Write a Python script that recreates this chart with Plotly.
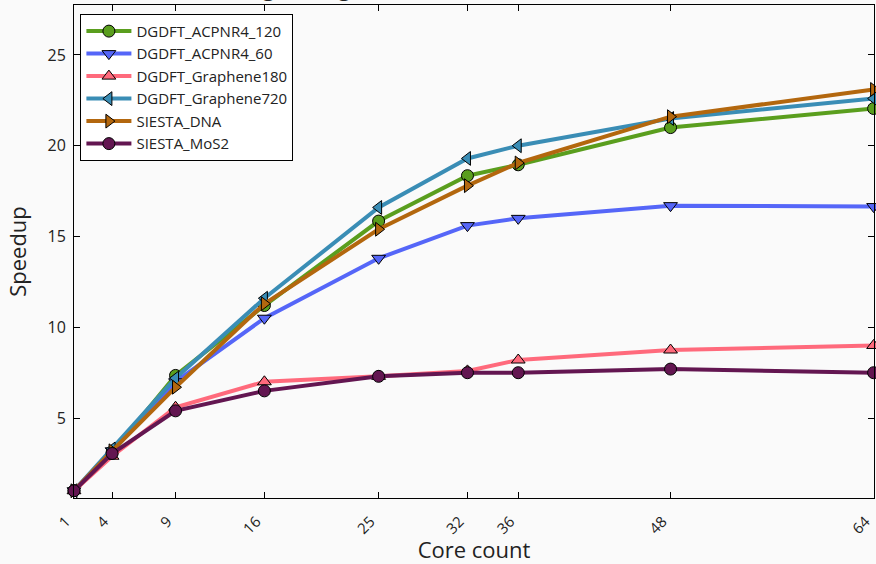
import plotly.graph_objects as go

cores = [1, 4, 9, 16, 25, 32, 36, 48, 64]
tick_labels = ["1", "4", "9", "16", "25", "32", "36", "48", "64"]

acpnr4_120 = [1.0, 3.1, 7.35, 11.2, 15.85, 18.35, 18.95, 21.0, 22.05]
acpnr4_60 = [1.0, 3.2, 7.0, 10.5, 13.8, 15.6, 16.0, 16.7, 16.65]
graphene180 = [1.0, 2.9, 5.6, 7.0, 7.3, 7.6, 8.2, 8.75, 9.0]
graphene720 = [1.0, 3.3, 7.2, 11.6, 16.6, 19.3, 20.0, 21.5, 22.6]
siesta_dna = [1.0, 3.2, 6.7, 11.3, 15.4, 17.8, 19.05, 21.6, 23.1]
siesta_mos2 = [1.0, 3.05, 5.4, 6.5, 7.3, 7.5, 7.5, 7.7, 7.5]

series = [
    ("DGDFT_ACPNR4_120", acpnr4_120, "#5a9e1e", "circle"),
    ("DGDFT_ACPNR4_60", acpnr4_60, "#5566f8", "triangle-down"),
    ("DGDFT_Graphene180", graphene180, "#ff6a7c", "triangle-up"),
    ("DGDFT_Graphene720", graphene720, "#3a8db5", "triangle-left"),
    ("SIESTA_DNA", siesta_dna, "#b3670e", "triangle-right"),
    ("SIESTA_MoS2", siesta_mos2, "#631651", "circle"),
]

title_text = "Strong scaling of DGDFT and SIESTA with PEXSI (128)"

font_family = "Open Sans, Noto Sans, DejaVu Sans, sans-serif"

fig = go.Figure()
for name, vals, color, sym in series:
    fig.add_trace(go.Scatter(
        x=cores, y=vals, name=name, mode="lines+markers",
        line=dict(color=color, width=4),
        marker=dict(symbol=sym, size=12, color=color,
                    line=dict(color="black", width=1)),
        cliponaxis=False,
    ))

bg = "#fafafa"
fig.update_layout(
    width=876, height=564,
    margin=dict(l=74, r=2, t=5, b=66),
    paper_bgcolor=bg, plot_bgcolor=bg,
    font=dict(family=font_family, size=16, color="#222"),
    showlegend=True,
    legend=dict(
        x=0.008, y=0.982, xanchor="left", yanchor="top",
        bgcolor="white", bordercolor="black", borderwidth=1,
        font=dict(size=15, color="#222"),
        tracegroupgap=0, itemwidth=45,
    ),
    xaxis=dict(
        range=[1, 64.03], tickmode="array", tickvals=cores, ticktext=tick_labels,
        tickangle=-45, ticks="inside", ticklen=6, tickcolor="black",
        showline=True, linecolor="black", linewidth=1, mirror="allticks",
        showgrid=False, zeroline=False, ticklabelstandoff=8,
        ticklabelshift=-8,
        ticklabeloverflow="allow", automargin=False,
        title=dict(text="Core count", font=dict(size=22), standoff=2),
        tickfont=dict(size=15),
    ),
    yaxis=dict(
        range=[0.6, 27.75], tickvals=[5, 10, 15, 20, 25],
        ticks="inside", ticklen=6, tickcolor="black",
        showline=True, linecolor="black", linewidth=1, mirror="allticks",
        showgrid=False, zeroline=False, ticklabelstandoff=4,
        automargin=False,
        title=dict(text="Speedup", font=dict(size=22), standoff=14),
        tickfont=dict(size=16),
    ),
    annotations=[dict(
        text=title_text, xref="paper", yref="paper", x=0.5, y=1.0,
        xanchor="center", yanchor="bottom", yshift=1, showarrow=False,
        font=dict(size=22, color="#222"),
    )],
)

fig.write_html("out.html")
